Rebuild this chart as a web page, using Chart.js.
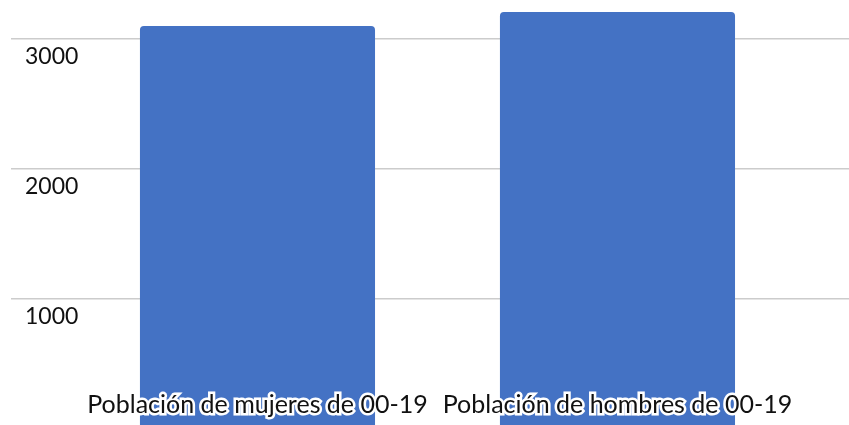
<!DOCTYPE html>
<html>
<head>
<meta charset="utf-8">
<script src="https://cdn.jsdelivr.net/npm/chart.js@4/dist/chart.umd.min.js"></script>
<style>
  html, body { margin: 0; padding: 0; background: #fff; overflow: hidden; }
  #wrap { width: 849px; height: 430px; position: relative; }
</style>
</head>
<body>
<div id="wrap"><canvas id="myChart"></canvas></div>
<script>
// categories and values
const categories = ['Población de mujeres de 00-19', 'Población de hombres de 00-19'];
const values = [3100, 3208];
const yTicks = [1000, 2000, 3000];

const points = categories.map((c, i) => ({ x: i, y: values[i] }));

// mirrored labels shouldn't push the chart area in
const noPadding = (s) => {
  s.paddingLeft = 0; s.paddingRight = 0; s.paddingTop = 0; s.paddingBottom = 0;
};

const data = {
  datasets: [{
    label: 'Población',
    data: points,
    backgroundColor: '#4472C4',
    borderRadius: 4,
    categoryPercentage: 1,
    barPercentage: 0.653
  }]
};

const config = {
  type: 'bar',
  data: data,
  options: {
    responsive: true,
    maintainAspectRatio: false,
    animation: false,
    layout: { padding: 0, autoPadding: false },
    plugins: {
      legend: { display: false },
      tooltip: { enabled: false }
    },
    scales: {
      x: {
        type: 'linear',
        position: 'bottom',
        offset: false,
        min: -0.6847,
        max: 1.6431,
        grid: { display: false },
        border: { display: false },
        afterBuildTicks: (s) => { s.ticks = categories.map((c, i) => ({ value: i })); },
        afterFit: (s) => { s.height = 1; noPadding(s); },
        ticks: {
          z: 1,
          mirror: true,
          padding: 9,
          maxRotation: 0,
          autoSkip: false,
          color: '#111',
          font: { family: 'Lato', size: 25 },
          textStrokeColor: '#fff',
          textStrokeWidth: 5,
          callback: (v) => categories[v]
        }
      },
      y: {
        position: 'left',
        min: 0,
        max: 3300,
        grid: { color: '#cccccc', lineWidth: 1.5, drawTicks: false },
        border: { display: false },
        afterBuildTicks: (s) => { s.ticks = yTicks.map(v => ({ value: v })); },
        afterFit: (s) => { s.width = 11; noPadding(s); },
        ticks: {
          mirror: true,
          padding: 14,
          labelOffset: 18,
          color: '#111',
          font: { family: 'Lato', size: 23 },
          callback: (v) => String(v)
        }
      }
    }
  }
};

new Chart(document.getElementById('myChart'), config);
</script>
</body>
</html>
